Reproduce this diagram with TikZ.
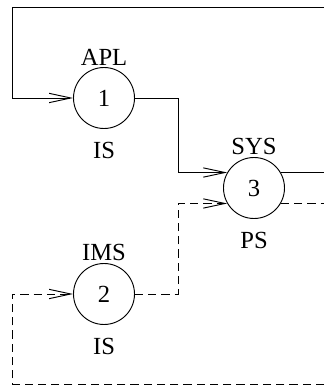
\documentclass[tikz,border=0pt]{standalone}
\usepackage{fontspec}
\setmainfont{Liberation Serif}
\usepackage{tikz}
\usetikzlibrary{positioning, arrows.meta}

\begin{document}
\begin{tikzpicture}[
  font=\fontsize{21}{25}\selectfont,
  proc/.style={draw, circle, line width=0.8pt, minimum size=1.83cm, inner sep=0pt},
  wire/.style={line width=0.8pt},
  flow/.style={wire, -{Straight Barb[length=6.5mm, width=2.8mm, line width=0.8pt]}},
  dashline/.style={dash pattern=on 7pt off 4.3pt},
  up/.style={label={[inner sep=0pt, label distance=0.05cm]above:#1}},
  down/.style={label={[inner sep=0pt, label distance=0.38cm]below:#1}}
]
  \useasboundingbox (0,0) rectangle (9.72,11.58);

  \node[proc, up=APL, down=IS] (n1) at (3.12,8.64) {1};
  \node[proc, up=IMS, down=IS] (n2) at (3.12,2.76) {2};
  \node[proc, up=SYS, down=PS] (n3) at (7.62,5.94) {3};

  % corners of the wires
  \coordinate (re) at (9.72,0);
  \coordinate (tr) at (9.72,11.37);
  \coordinate (tl) at (0.36,11.37);
  \coordinate (br) at (9.72,0.06);
  \coordinate (bl) at (0.36,0.06);
  \coordinate (j1) at (5.34,8.64);
  \coordinate (j2) at (5.34,2.76);

  % solid path
  \draw[flow] (tr) -- (tl) |- (n1);
  \draw[flow] (n1) -- (j1) |- (n3.150);
  \draw[wire] (n3.30) -- (n3.30 -| re);

  % dashed path
  \draw[flow, dashline] (br) -- (bl) |- (n2);
  \draw[flow, dashline] (n2) -- (j2) |- (n3.210);
  \draw[wire, dashline] (n3.330) -- (n3.330 -| re);
\end{tikzpicture}
\end{document}
